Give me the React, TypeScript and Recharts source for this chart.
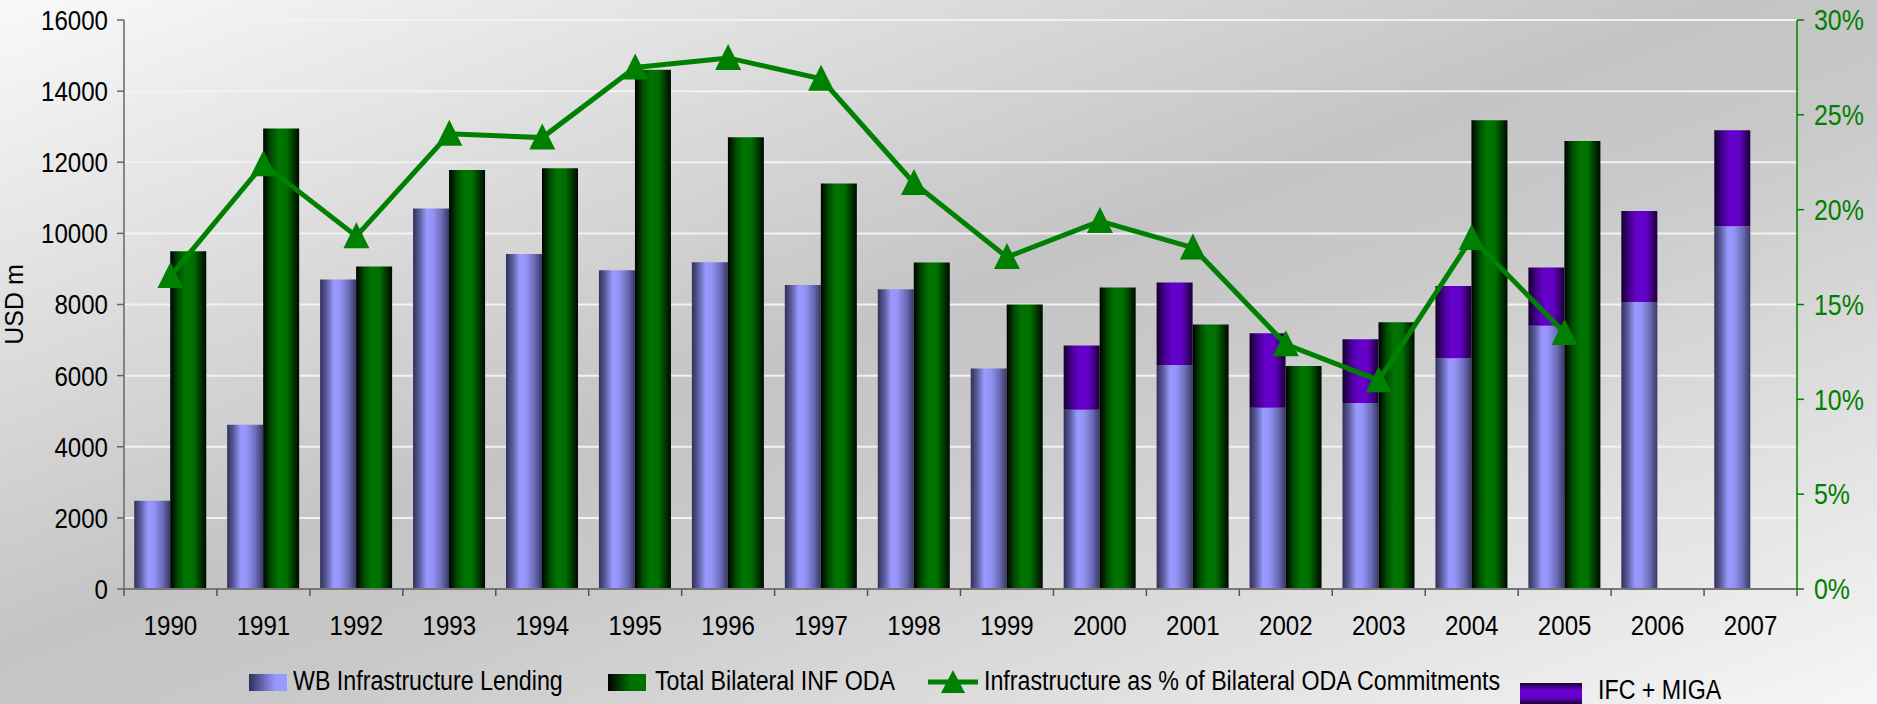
import React from 'react';
import {
  ComposedChart,
  Bar,
  Line,
  XAxis,
  YAxis,
  CartesianGrid,
} from 'recharts';

const years = ['1990', '1991', '1992', '1993', '1994', '1995', '1996', '1997', '1998', '1999', '2000', '2001', '2002', '2003', '2004', '2005', '2006', '2007'];
const wbLending = [2480, 4620, 8700, 10700, 9420, 8960, 9190, 8550, 8430, 6200, 5040, 6300, 5100, 5230, 6490, 7400, 8070, 10200];
const ifcMiga = [null, null, null, null, null, null, null, null, null, null, 1810, 2320, 2090, 1790, 2030, 1640, 2560, 2700];
const bilateralOda = [9500, 12950, 9070, 11780, 11830, 14600, 12700, 11400, 9180, 8000, 8480, 7440, 6270, 7500, 13180, 12600, null, null];
const infraShare = [16.5, 22.4, 18.6, 24.0, 23.8, 27.5, 28.0, 26.9, 21.4, 17.5, 19.4, 18.0, 12.9, 11.0, 18.5, 13.5, null, null];

const usdTicks = [0, 2000, 4000, 6000, 8000, 10000, 12000, 14000, 16000];
const pctTicks = [0, 5, 10, 15, 20, 25, 30];

const data = years.map((year, i) => ({
  year,
  wb: wbLending[i],
  ifc: ifcMiga[i],
  oda: bilateralOda[i],
  share: infraShare[i],
}));

const W = 1877;
const H = 704;
const PLOT_LEFT = 124;
const PLOT_RIGHT = 1797;
const PLOT_TOP = 20;
const PLOT_BOTTOM = 589;
const BAND = (PLOT_RIGHT - PLOT_LEFT) / years.length;
const GREEN = '#008000';
const FONT = "'Liberation Sans', Arial, sans-serif";
const SQUEEZE = 0.86;

const Triangle = (props: any) => {
  const { cx, cy, value } = props;
  if (value == null || cx == null || cy == null) return <g />;
  return (
    <path
      d={`M${cx},${cy - 14} L${cx + 13},${cy + 12} L${cx - 13},${cy + 12} Z`}
      fill={GREEN}
    />
  );
};

// narrow text: the reference uses a condensed face
const NarrowText = ({ x, y, anchor, size, fill, children }: any) => (
  <text
    transform={`translate(${x},${y}) scale(${SQUEEZE},1)`}
    textAnchor={anchor}
    dy="0.355em"
    fontSize={size}
    fontFamily={FONT}
    fill={fill}
  >
    {children}
  </text>
);

const YearTick = (props: any) => {
  const { x, payload, index } = props;
  const left = x - BAND / 2;
  return (
    <g>
      <line x1={left} x2={left} y1={PLOT_BOTTOM} y2={PLOT_BOTTOM + 7} stroke="#555" strokeWidth={1.5} />
      {index === years.length - 1 && (
        <line x1={left + BAND} x2={left + BAND} y1={PLOT_BOTTOM} y2={PLOT_BOTTOM + 7} stroke="#555" strokeWidth={1.5} />
      )}
      <NarrowText x={x} y={PLOT_BOTTOM + 36} anchor="middle" size={28} fill="#000">
        {payload.value}
      </NarrowText>
    </g>
  );
};

const UsdTick = (props: any) => {
  const { x, y, payload } = props;
  return (
    <NarrowText x={x} y={y} anchor="end" size={28} fill="#000">
      {payload.value}
    </NarrowText>
  );
};

const PctTick = (props: any) => {
  const { x, y, payload } = props;
  return (
    <NarrowText x={x} y={y} anchor="start" size={29} fill={GREEN}>
      {`${payload.value}%`}
    </NarrowText>
  );
};

const legendText: React.CSSProperties = {
  position: 'absolute',
  fontFamily: FONT,
  fontSize: 27,
  color: '#000',
  lineHeight: 1,
  whiteSpace: 'nowrap',
  transform: `scaleX(${SQUEEZE})`,
  transformOrigin: 'left center',
};

export default function App() {
  return (
    <div
      style={{
        position: 'absolute',
        left: 0,
        top: 0,
        width: W,
        height: H,
        overflow: 'hidden',
        background: 'linear-gradient(to bottom right, #f9f9f9 0%, #c4c4c4 46%, #c8c8c8 56%, #f6f6f6 100%)',
      }}
    >
      <ComposedChart
        width={W}
        height={H}
        data={data}
        margin={{ top: PLOT_TOP, right: 0, left: 0, bottom: 0 }}
        barCategoryGap="11%"
        barGap={0}
      >
        <defs>
          <linearGradient id="wbGrad" x1="0" y1="0" x2="1" y2="0">
            <stop offset="0%" stopColor="#30305a" />
            <stop offset="18%" stopColor="#5c5c9c" />
            <stop offset="38%" stopColor="#9999ff" />
            <stop offset="55%" stopColor="#9494f8" />
            <stop offset="80%" stopColor="#6a6ab4" />
            <stop offset="100%" stopColor="#383866" />
          </linearGradient>
          <linearGradient id="ifcGrad" x1="0" y1="0" x2="1" y2="0">
            <stop offset="0%" stopColor="#12002a" />
            <stop offset="25%" stopColor="#4a0098" />
            <stop offset="45%" stopColor="#6600cc" />
            <stop offset="70%" stopColor="#6200c4" />
            <stop offset="100%" stopColor="#1a0036" />
          </linearGradient>
          <linearGradient id="odaGrad" x1="0" y1="0" x2="1" y2="0">
            <stop offset="0%" stopColor="#000000" />
            <stop offset="22%" stopColor="#004c00" />
            <stop offset="42%" stopColor="#007400" />
            <stop offset="65%" stopColor="#007000" />
            <stop offset="85%" stopColor="#003400" />
            <stop offset="100%" stopColor="#000800" />
          </linearGradient>
        </defs>
        <CartesianGrid vertical={false} stroke="#f2f2f2" strokeWidth={2} yAxisId="usd" />
        <XAxis
          dataKey="year"
          height={H - PLOT_BOTTOM}
          axisLine={{ stroke: '#777', strokeWidth: 2 }}
          tickLine={false}
          tick={<YearTick />}
          interval={0}
        />
        <YAxis
          yAxisId="usd"
          width={PLOT_LEFT}
          domain={[0, 16000]}
          ticks={usdTicks}
          axisLine={{ stroke: '#666', strokeWidth: 1.5 }}
          tickLine={{ stroke: '#666', strokeWidth: 1.5 }}
          tickSize={7}
          tickMargin={9}
          tick={<UsdTick />}
          label={{
            value: 'USD m',
            angle: -90,
            position: 'insideLeft',
            offset: 14,
            style: { fill: '#000', fontSize: 25, fontFamily: FONT, textAnchor: 'middle' },
          }}
        />
        <YAxis
          yAxisId="pct"
          orientation="right"
          width={W - PLOT_RIGHT}
          domain={[0, 30]}
          ticks={pctTicks}
          axisLine={{ stroke: GREEN, strokeWidth: 1.5 }}
          tickLine={{ stroke: GREEN, strokeWidth: 1.5 }}
          tickSize={7}
          tickMargin={10}
          tick={<PctTick />}
        />
        <Bar yAxisId="usd" dataKey="wb" stackId="wb" fill="url(#wbGrad)" isAnimationActive={false} />
        <Bar yAxisId="usd" dataKey="ifc" stackId="wb" fill="url(#ifcGrad)" isAnimationActive={false} />
        <Bar yAxisId="usd" dataKey="oda" fill="url(#odaGrad)" isAnimationActive={false} />
        <Line
          yAxisId="pct"
          dataKey="share"
          stroke={GREEN}
          strokeWidth={5}
          dot={<Triangle />}
          activeDot={false}
          isAnimationActive={false}
        />
      </ComposedChart>

      {/* legend */}
      <div style={{ position: 'absolute', left: 249, top: 674, width: 38, height: 17, background: 'linear-gradient(to right, #30305a, #9999ff 70%, #9999ff)' }} />
      <div style={{ ...legendText, left: 293, top: 668 }}>WB Infrastructure Lending</div>
      <div style={{ position: 'absolute', left: 608, top: 674, width: 38, height: 17, background: 'linear-gradient(to right, #000, #007000 60%, #007000)' }} />
      <div style={{ ...legendText, left: 655, top: 668 }}>Total Bilateral INF ODA</div>
      <svg style={{ position: 'absolute', left: 926, top: 668 }} width={54} height={28}>
        <line x1={2} x2={52} y1={14} y2={14} stroke={GREEN} strokeWidth={5} />
        <path d="M27,2 L39,25 L15,25 Z" fill={GREEN} />
      </svg>
      <div style={{ ...legendText, left: 984, top: 668 }}>Infrastructure as % of Bilateral ODA Commitments</div>
      <div style={{ position: 'absolute', left: 1520, top: 683, width: 62, height: 21, background: 'linear-gradient(to bottom, #1a0036, #6600cc 35%, #6600cc 70%, #1a0036)' }} />
      <div style={{ ...legendText, left: 1598, top: 677 }}>IFC + MIGA</div>
    </div>
  );
}
